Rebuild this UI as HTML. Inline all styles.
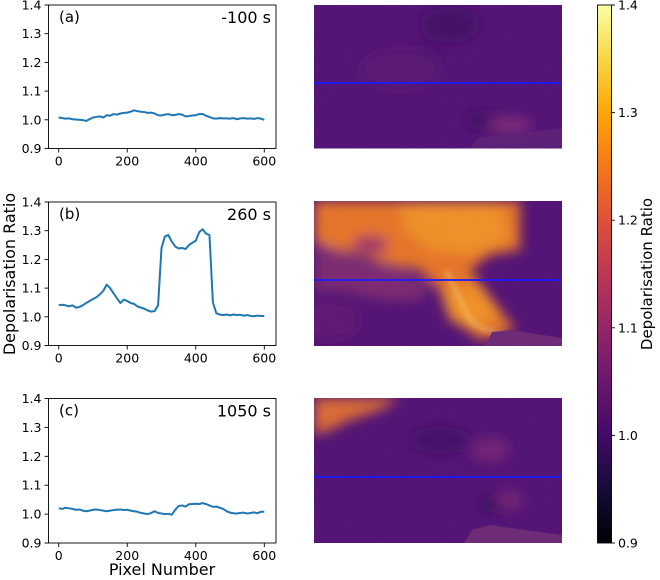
<!DOCTYPE html>
<html><head><meta charset="utf-8">
<style>
html,body{margin:0;padding:0;background:#fff;}
svg{display:block;font-family:"DejaVu Sans","Liberation Sans",sans-serif;}
</style></head>
<body>
<svg id="fig" width="660" height="580" viewBox="0 0 660 580" xmlns="http://www.w3.org/2000/svg">
<defs>
<linearGradient id="inferno" x1="0" y1="1" x2="0" y2="0">
<stop offset="0" stop-color="#000004"/><stop offset="0.1" stop-color="#160b39"/>
<stop offset="0.2" stop-color="#420a68"/><stop offset="0.3" stop-color="#6a176e"/>
<stop offset="0.4" stop-color="#932667"/><stop offset="0.5" stop-color="#bc3754"/>
<stop offset="0.6" stop-color="#dd513a"/><stop offset="0.7" stop-color="#f37819"/>
<stop offset="0.8" stop-color="#fca50a"/><stop offset="0.9" stop-color="#f6d746"/>
<stop offset="1" stop-color="#fcffa4"/>
</linearGradient>
<filter id="blur6"><feGaussianBlur stdDeviation="6"/></filter>
<filter id="blur3"><feGaussianBlur stdDeviation="3"/></filter>
<filter id="noise"><feTurbulence type="fractalNoise" baseFrequency="0.9" numOctaves="1" result="n"/><feColorMatrix type="matrix" values="0 0 0 0 0.3 0 0 0 0 0.05 0 0 0 0 0.45 0 0 0 0.18 0"/></filter>
<clipPath id="clipA"><rect x="314" y="5" width="248" height="143.5"/></clipPath>
<clipPath id="clipB"><rect x="314" y="201" width="248" height="145"/></clipPath>
<clipPath id="clipC"><rect x="314" y="398" width="248" height="145"/></clipPath>
</defs>

<g clip-path="url(#clipA)">
<rect x="314" y="5" width="248" height="143.5" fill="#4e1170"/>
<g filter="url(#blur6)">
<ellipse cx="450" cy="25" rx="30" ry="18" fill="#3d0e62"/>
<ellipse cx="420" cy="60" rx="20" ry="12" fill="#430e66"/>
<ellipse cx="480" cy="120" rx="14" ry="10" fill="#3a0c60"/>
<ellipse cx="510" cy="125" rx="22" ry="8" fill="#7a2a72"/>
<ellipse cx="400" cy="70" rx="40" ry="20" fill="#57166f"/>
</g>
<path d="M470 148 L478 138 L500 135 L530 132 L562 128 L562 148 Z" fill="#5a2270" opacity="0.8"/>
<rect x="314" y="5" width="248" height="143.5" filter="url(#noise)"/>
</g>
<line x1="314" y1="83" x2="562" y2="83" stroke="#1a1aff" stroke-width="1.8"/>

<g clip-path="url(#clipB)">
<rect x="314" y="201" width="248" height="145" fill="#4e1170"/>
<g filter="url(#blur6)">
<path d="M314 201 L520 201 L520 250 L490 255 L470 270 L500 310 L515 330 L480 340 L455 320 L440 290 L420 270 L390 265 L360 255 L340 250 L314 255 Z" fill="#ec7a1e"/>
<path d="M314 240 L360 260 L400 270 L430 285 L420 300 L380 300 L340 290 L314 290 Z" fill="#7a2a6c"/>
<path d="M400 205 L500 205 L510 240 L470 255 L430 250 L405 230 Z" fill="#f7981a"/>
<path d="M440 290 L480 285 L500 315 L470 330 L450 320 Z" fill="#f7981a"/>
<ellipse cx="370" cy="245" rx="18" ry="10" fill="#a83a5c"/>
<ellipse cx="330" cy="320" rx="30" ry="20" fill="#5c186e"/>
</g>
<path d="M446 270 Q460 300 470 320 Q480 330 505 335" stroke="#ffe080" stroke-width="2" fill="none" filter="url(#blur3)"/>
<path d="M485 346 L492 332 L510 330 L530 333 L562 338 L562 346 Z" fill="#6a2a70"/>
<rect x="314" y="201" width="248" height="145" filter="url(#noise)"/>
</g>
<line x1="314" y1="280" x2="562" y2="280" stroke="#1a1aff" stroke-width="1.8"/>

<g clip-path="url(#clipC)">
<rect x="314" y="398" width="248" height="145" fill="#4e1170"/>
<g filter="url(#blur6)">
<path d="M314 398 L400 398 L380 410 L350 420 L330 430 L314 435 Z" fill="#e0702a"/>
<ellipse cx="440" cy="440" rx="30" ry="14" fill="#3e0e63"/>
<ellipse cx="490" cy="450" rx="20" ry="12" fill="#6e2270"/>
<ellipse cx="490" cy="505" rx="10" ry="8" fill="#2e0a55"/>
<ellipse cx="510" cy="500" rx="14" ry="10" fill="#6d2470"/>
</g>
<path d="M464 543 L472 530 L490 525 L510 528 L540 532 L562 535 L562 543 Z" fill="#6a2a70"/>
<rect x="314" y="398" width="248" height="145" filter="url(#noise)"/>
</g>
<line x1="314" y1="477" x2="562" y2="477" stroke="#1a1aff" stroke-width="1.8"/>

<g>
<rect x="597.5" y="5" width="14" height="538" fill="url(#inferno)" stroke="#000" stroke-width="0.9"/>
<g id="cbticks"></g>
<text transform="translate(652,274) rotate(-90)" text-anchor="middle" font-size="15">Depolarisation Ratio</text>
</g>

<g id="plots"></g>
<text transform="translate(15,274) rotate(-90)" text-anchor="middle" font-size="16">Depolarisation Ratio</text>
<text x="162" y="575" text-anchor="middle" font-size="16">Pixel Number</text>
</svg>
<script>
const xTicks = [0, 200, 400, 600];
const yTicks = [0.9, 1.0, 1.1, 1.2, 1.3, 1.4];
const yTickLabels = ["0.9", "1.0", "1.1", "1.2", "1.3", "1.4"];
const cbTicks = [0.9, 1.0, 1.1, 1.2, 1.3, 1.4];
const panelLabels = ["(a)", "(b)", "(c)"];
const timeLabels = ["-100 s", "260 s", "1050 s"];
const seriesA = [1.008,1.006,1.004,1.005,1.002,1.001,1.0,0.999,0.996,1.002,1.008,1.010,1.012,1.008,1.016,1.014,1.020,1.018,1.022,1.024,1.025,1.028,1.033,1.030,1.028,1.027,1.024,1.025,1.022,1.016,1.015,1.018,1.020,1.016,1.017,1.020,1.018,1.012,1.013,1.015,1.016,1.020,1.020,1.014,1.010,1.005,1.004,1.006,1.005,1.005,1.004,1.006,1.002,1.005,1.006,1.004,1.005,1.003,1.006,1.004,1.0];
const seriesB = [1.040,1.042,1.040,1.036,1.040,1.032,1.034,1.040,1.048,1.055,1.062,1.068,1.078,1.090,1.112,1.100,1.082,1.065,1.048,1.060,1.055,1.048,1.045,1.036,1.032,1.028,1.022,1.018,1.020,1.040,1.240,1.280,1.285,1.262,1.245,1.238,1.240,1.236,1.250,1.258,1.265,1.295,1.305,1.290,1.285,1.050,1.012,1.008,1.006,1.008,1.005,1.008,1.006,1.007,1.004,1.006,1.003,1.002,1.004,1.003,1.003];
const seriesC = [1.020,1.018,1.022,1.020,1.018,1.015,1.016,1.012,1.010,1.012,1.015,1.016,1.014,1.012,1.010,1.012,1.014,1.015,1.016,1.014,1.015,1.012,1.010,1.008,1.004,1.002,1.000,1.004,1.010,1.004,1.002,1.000,1.001,0.998,1.015,1.028,1.030,1.026,1.034,1.035,1.036,1.035,1.038,1.035,1.030,1.025,1.026,1.022,1.018,1.010,1.005,1.003,1.002,1.004,1.005,1.002,1.004,1.006,1.003,1.008,1.008];
const allSeries = [seriesA, seriesB, seriesC];

const NS = "http://www.w3.org/2000/svg";
const frames = [{t:5,b:148.5},{t:202,b:345.5},{t:398.5,b:543}];
const xL = 48.5, xR = 276;
function xs(v){ return 58.7 + (v/600)*(264.3-58.7); }
function ysF(f){ return v => f.b - (v-0.9)/0.5*(f.b-f.t); }
function mk(tag, attrs, parent){ const e=document.createElementNS(NS,tag); for(const k in attrs) e.setAttribute(k,attrs[k]); parent.appendChild(e); return e; }

const plots = document.getElementById('plots');
frames.forEach((f, pi) => {
  const ys = ysF(f);
  const g = mk('g', {}, plots);
  
  
  const data = allSeries[pi];
  let d = '';
  data.forEach((v,i)=>{ d += (i?'L':'M') + xs(i*10).toFixed(2) + ' ' + ys(v).toFixed(2); });
  const p = mk('path', {d:d, fill:'none', stroke:'#1f77b4', 'stroke-width':'2', 'stroke-linejoin':'round'}, g);
  
  
  const fr = mk('rect', {x:xL, y:f.t, width:xR-xL, height:f.b-f.t, fill:'none', stroke:'#000', 'stroke-width':'0.9'}, g);
  
  
  xTicks.forEach(t => {
    mk('line', {x1:xs(t), x2:xs(t), y1:f.b, y2:f.b+4, stroke:'#000', 'stroke-width':'0.9'}, g);
    const tx = mk('text', {x:xs(t), y:f.b+17, 'text-anchor':'middle', 'font-size':'12.5'}, g);
    tx.textContent = t;
    
    
  });
  yTicks.forEach((t,i) => {
    mk('line', {x1:xL-4, x2:xL, y1:ys(t), y2:ys(t), stroke:'#000', 'stroke-width':'0.9'}, g);
    const tx = mk('text', {x:xL-7, y:ys(t)+4.5, 'text-anchor':'end', 'font-size':'12.5'}, g);
    tx.textContent = yTickLabels[i];
    
    
  });
  const pl = mk('text', {x:59, y:f.t+17, 'font-size':'15'}, g);
  pl.textContent = panelLabels[pi];
  
  
  const tl = mk('text', {x:271, y:f.t+18, 'text-anchor':'end', 'font-size':'16'}, g);
  tl.textContent = timeLabels[pi];
  
  
});

const cb = document.getElementById('cbticks');
function cy(v){ return 543 - (v-0.9)/0.5*538; }
cbTicks.forEach(t => {
  mk('line', {x1:611.5, x2:615, y1:cy(t), y2:cy(t), stroke:'#000', 'stroke-width':'0.9'}, cb);
  const tx = mk('text', {x:618, y:cy(t)+4.5, 'font-size':'12.5'}, cb);
  tx.textContent = t.toFixed(1);
  
  
});
</script>
</body></html>
